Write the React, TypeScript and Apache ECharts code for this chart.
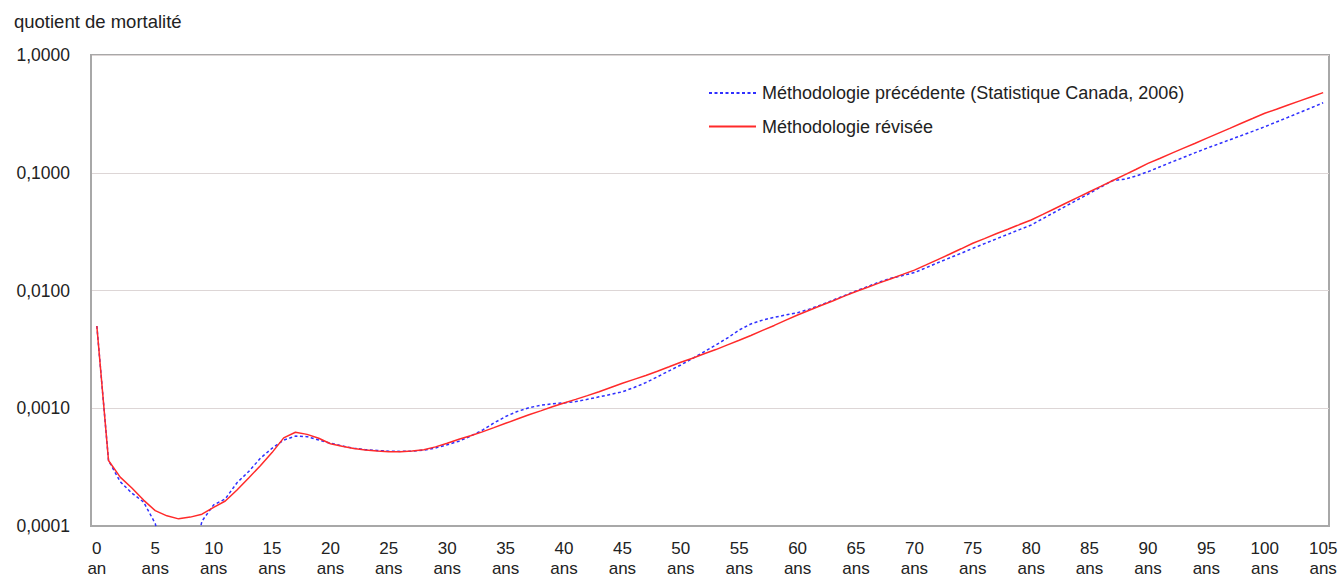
import React, { useEffect, useRef } from "react";
import * as echarts from "echarts";

const ages: string[] = [
  "0","1","2","3","4","5","6","7","8","9","10","11","12","13","14","15","16","17","18","19",
  "20","21","22","23","24","25","26","27","28","29","30","31","32","33","34","35","36","37","38","39",
  "40","41","42","43","44","45","46","47","48","49","50","51","52","53","54","55","56","57","58","59",
  "60","61","62","63","64","65","66","67","68","69","70","71","72","73","74","75","76","77","78","79",
  "80","81","82","83","84","85","86","87","88","89","90","91","92","93","94","95","96","97","98","99",
  "100","101","102","103","104","105",
];

const previousMethod: number[] = [
  0.0050, 0.00036, 0.000238, 0.00019, 0.00016, 0.000105, 0.00004, 0.00003, 0.00004, 0.00011,
  0.000151, 0.00017, 0.000233, 0.00029, 0.000376, 0.000457, 0.000537, 0.00058, 0.000574, 0.000537,
  0.000505, 0.000478, 0.000458, 0.000445, 0.000438, 0.000432, 0.00043, 0.000432, 0.00044, 0.00046,
  0.00049, 0.000525, 0.00058, 0.00065, 0.00075, 0.00085, 0.00094, 0.00101, 0.00106, 0.00109,
  0.00111, 0.00114, 0.00119, 0.00125, 0.00131, 0.00138, 0.0015, 0.00165, 0.00185, 0.00208,
  0.00233, 0.00265, 0.00302, 0.00345, 0.00395, 0.00462, 0.0052, 0.0056, 0.00592, 0.0062,
  0.00648, 0.00695, 0.00753, 0.00825, 0.00905, 0.0099, 0.0108, 0.0118, 0.0127, 0.0134,
  0.0142, 0.0156, 0.0172, 0.0189, 0.0207, 0.0228, 0.025, 0.0274, 0.03, 0.0329,
  0.036, 0.0408, 0.0462, 0.0523, 0.0592, 0.0668, 0.076, 0.086, 0.088, 0.094,
  0.102, 0.112, 0.123, 0.1345, 0.1475, 0.161, 0.175, 0.1905, 0.207, 0.2255,
  0.246, 0.27, 0.296, 0.325, 0.357, 0.393,
];

const revisedMethod: number[] = [
  0.0050, 0.00036, 0.00026, 0.00021, 0.000166, 0.000135, 0.000122, 0.000115, 0.000119, 0.000126,
  0.000144, 0.000163, 0.000202, 0.000256, 0.000325, 0.00042, 0.00056, 0.000625, 0.0006, 0.000556,
  0.0005, 0.000475, 0.000455, 0.000442, 0.000433, 0.000428, 0.000428, 0.000433, 0.000445, 0.00047,
  0.000505, 0.000545, 0.000585, 0.00063, 0.000685, 0.000745, 0.00081, 0.00088, 0.00095, 0.00103,
  0.00111, 0.00119, 0.00128, 0.00138, 0.0015, 0.00163, 0.00176, 0.0019, 0.00206, 0.00225,
  0.00246, 0.00266, 0.0029, 0.00315, 0.00345, 0.00378, 0.00415, 0.00458, 0.00505, 0.0056,
  0.0062, 0.0068, 0.00745, 0.00815, 0.00895, 0.0098, 0.01065, 0.0116, 0.0126, 0.0137,
  0.0149, 0.0165, 0.0183, 0.0203, 0.0226, 0.0252, 0.0276, 0.0303, 0.0331, 0.0363,
  0.0397, 0.0443, 0.0495, 0.0553, 0.0618, 0.069, 0.077, 0.086, 0.096, 0.107,
  0.12, 0.132, 0.146, 0.161, 0.177, 0.196, 0.216, 0.238, 0.263, 0.29,
  0.32, 0.346, 0.376, 0.408, 0.442, 0.479,
];

const seriesNames = [
  "Méthodologie précédente (Statistique Canada, 2006)",
  "Méthodologie révisée",
];
const yTitle = "quotient de mortalité";

const FONT = "Liberation Sans";

export default function App() {
  const ref = useRef<HTMLDivElement>(null);
  useEffect(() => {
    if (!ref.current) return;
    const chart = echarts.init(ref.current, undefined, { renderer: "svg" });
    chart.setOption({
      animation: false,
      backgroundColor: "#ffffff",
      textStyle: { fontFamily: FONT },
      graphic: [
        {
          type: "text",
          left: 14,
          top: 12,
          style: { text: yTitle, font: `18.5px '${FONT}'`, fill: "#222" },
        },
      ],
      legend: {
        orient: "vertical",
        left: 703,
        top: 79,
        itemWidth: 47,
        itemHeight: 16,
        itemGap: 15.5,
        itemStyle: { opacity: 0 },
        textStyle: {
          fontFamily: FONT,
          fontSize: 18,
          color: "#222",
          lineHeight: 18,
          padding: [0, 0, 0, 1],
        },
        data: seriesNames,
      },
      grid: {
        left: 91,
        right: 12,
        top: 55,
        bottom: 52,
        show: true,
        borderColor: "#a8a8a8",
        borderWidth: 2,
      },
      xAxis: {
        type: "category",
        data: ages,
        boundaryGap: true,
        axisLine: { show: true, lineStyle: { color: "#a8a8a8", width: 2 } },
        axisTick: { show: false },
        axisLabel: {
          interval: 4,
          margin: 12,
          fontFamily: FONT,
          fontSize: 17,
          color: "#222",
          lineHeight: 20,
          formatter: (v: string) => v + "\n" + (v === "0" ? "an" : "ans"),
        },
        splitLine: { show: false },
      },
      yAxis: {
        type: "log",
        logBase: 10,
        min: 0.0001,
        max: 1,
        axisLine: { show: true, lineStyle: { color: "#a8a8a8", width: 2 } },
        axisTick: { show: false },
        axisLabel: {
          margin: 21,
          fontFamily: FONT,
          fontSize: 17.5,
          color: "#222",
          formatter: (v: number) => v.toFixed(4).replace(".", ","),
        },
        splitLine: { show: true, lineStyle: { color: "#ddd6d6", width: 1 } },
      },
      series: [
        {
          name: seriesNames[0],
          type: "line",
          data: previousMethod,
          symbol: "none",
          smooth: false,
          lineStyle: { color: "#2f2fff", width: 1.5, type: [3, 2.5] },
          itemStyle: { color: "#2f2fff" },
        },
        {
          name: seriesNames[1],
          type: "line",
          data: revisedMethod,
          symbol: "none",
          smooth: false,
          lineStyle: { color: "#ff2a2a", width: 1.5 },
          itemStyle: { color: "#ff2a2a" },
        },
      ],
    });
    return () => chart.dispose();
  }, []);
  return (
    <div
      ref={ref}
      style={{ position: "absolute", left: 0, top: 0, width: 1341, height: 578 }}
    />
  );
}
